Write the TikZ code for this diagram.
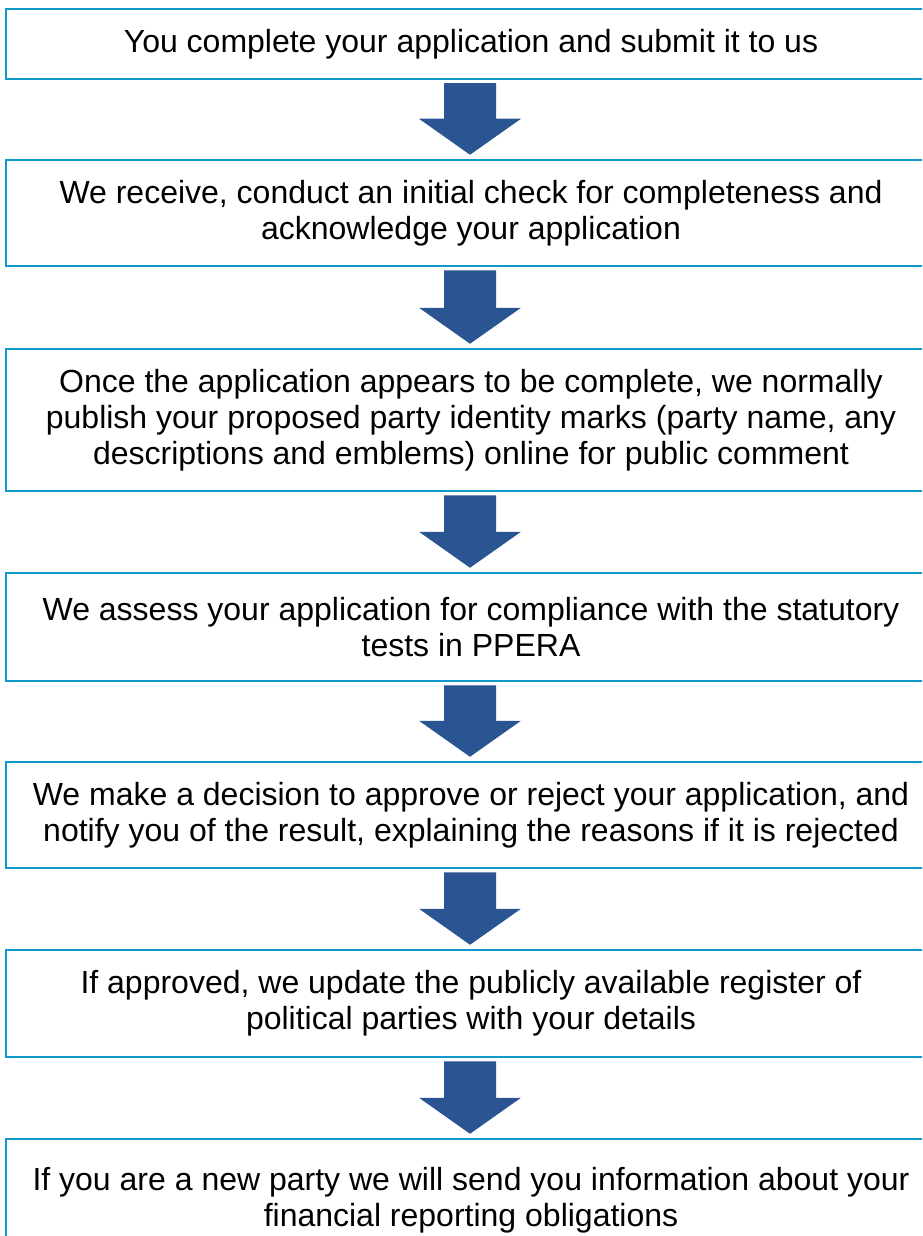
\documentclass[tikz,border=0pt]{standalone}
\usepackage{fontspec}
\setmainfont{Liberation Sans}
\usetikzlibrary{calc}
\definecolor{boxblue}{HTML}{0E9ACD}
\definecolor{arrowblue}{HTML}{2A5592}
\tikzset{
    stepbox/.style={draw=boxblue, line width=2.5pt, fill=white, minimum width=930pt,
        align=center, font=\fontsize{32}{36}\selectfont, inner sep=0pt},
    downarrow/.style={fill=arrowblue}
}
\begin{document}
\begin{tikzpicture}[x=1pt, y=-1pt]
        \clip (0, 0) rectangle (922, 1236);
        \fill[white] (0, 0) rectangle (922, 1236);
        \node[stepbox, minimum height=70pt] (s1) at (471, 44) {You complete your application and submit it to us};
        \node[stepbox, minimum height=106pt] (s2) at (471, 213) {We receive, conduct an initial check for completeness and\\acknowledge your application};
        \node[stepbox, minimum height=142pt] (s3) at (471, 420) {Once the application appears to be complete, we normally\\publish your proposed party identity marks (party name, any\\descriptions and emblems) online for public comment};
        \node[stepbox, minimum height=108pt] (s4) at (471, 627) {We assess your application for compliance with the statutory\\tests in PPERA};
        \node[stepbox, minimum height=106pt] (s5) at (471, 815) {We make a decision to approve or reject your application, and\\notify you of the result, explaining the reasons if it is rejected};
        \node[stepbox, minimum height=107pt] (s6) at (471, 1003.5) {If approved, we update the publicly available register of\\political parties with your details};
        \node[stepbox, minimum height=122pt] (s7) at (471, 1200) {If you are a new party we will send you information about your\\financial reporting obligations};
        \fill[downarrow] ($(s1.south)+(-27,3)$) |- ($(s2.north)+(-52,-40)$) -- ($(s2.north)+(-1,-4)$) -- ($(s2.north)+(50,-40)$) -| ($(s1.south)+(25,3)$) -- cycle;
        \fill[downarrow] ($(s2.south)+(-27,3)$) |- ($(s3.north)+(-52,-40)$) -- ($(s3.north)+(-1,-4)$) -- ($(s3.north)+(50,-40)$) -| ($(s2.south)+(25,3)$) -- cycle;
        \fill[downarrow] ($(s3.south)+(-27,3)$) |- ($(s4.north)+(-52,-40)$) -- ($(s4.north)+(-1,-4)$) -- ($(s4.north)+(50,-40)$) -| ($(s3.south)+(25,3)$) -- cycle;
        \fill[downarrow] ($(s4.south)+(-27,3)$) |- ($(s5.north)+(-52,-40)$) -- ($(s5.north)+(-1,-4)$) -- ($(s5.north)+(50,-40)$) -| ($(s4.south)+(25,3)$) -- cycle;
        \fill[downarrow] ($(s5.south)+(-27,3)$) |- ($(s6.north)+(-52,-40)$) -- ($(s6.north)+(-1,-4)$) -- ($(s6.north)+(50,-40)$) -| ($(s5.south)+(25,3)$) -- cycle;
        \fill[downarrow] ($(s6.south)+(-27,3)$) |- ($(s7.north)+(-52,-40)$) -- ($(s7.north)+(-1,-4)$) -- ($(s7.north)+(50,-40)$) -| ($(s6.south)+(25,3)$) -- cycle;
    \end{tikzpicture}
\end{document}
